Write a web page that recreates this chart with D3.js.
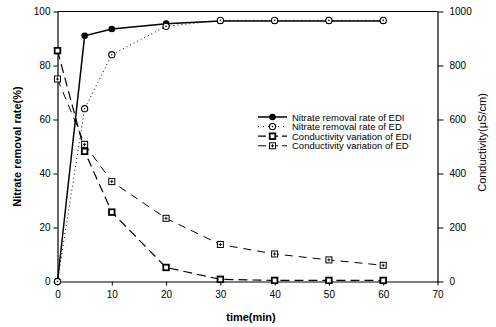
<!DOCTYPE html>
<html>
<head>
<meta charset="utf-8">
<script src="https://cdn.jsdelivr.net/npm/d3@7"></script>
<style>
  body { margin: 0; background: #fff; }
  svg text { font-family: "Liberation Sans", Arial, sans-serif; fill: #000; }
</style>
</head>
<body>
<div id="chart"></div>
<script>
// time points (min)
var times = [0, 5, 10, 20, 30, 40, 50, 60];

// nitrate removal rate (%)
var nitrateEDI = [0, 91, 93.5, 95.5, 96.5, 96.5, 96.5, 96.5];
var nitrateED = [0, 64, 84, 94.5, 96.7, 96.7, 96.7, 96.7];

// conductivity (uS/cm)
var condEDI = [855, 482, 257, 52, 8, 4, 4, 4];
var condED = [750, 508, 370, 234, 137, 102, 80, 60];

var xTicks = [0, 10, 20, 30, 40, 50, 60, 70];
var yTicks = [0, 20, 40, 60, 80, 100];
var y2Ticks = [0, 200, 400, 600, 800, 1000];

var legendLabels = [
    "Nitrate removal rate of EDI",
    "Nitrate removal rate of ED",
    "Conductivity variation of EDI",
    "Conductivity variation of ED"
];

var W = 496, H = 327;
var margin = { top: 11.5, right: 58.5, bottom: 45.5, left: 57.5 };

var svg = d3.select("#chart").append("svg")
    .attr("width", W)
    .attr("height", H);

var x = d3.scaleLinear().domain([0, 70]).range([margin.left, W - margin.right]);
var y = d3.scaleLinear().domain([0, 100]).range([H - margin.bottom, margin.top]);
var y2 = d3.scaleLinear().domain([0, 1000]).range([H - margin.bottom, margin.top]);

// frame top line
svg.append("line")
    .attr("x1", x(0)).attr("x2", x(70))
    .attr("y1", y(100)).attr("y2", y(100))
    .attr("stroke", "#000").attr("stroke-width", 1);

// axes
function styleAxis(g) {
    g.selectAll("path").attr("stroke", "#000").attr("stroke-width", 1.2);
    g.selectAll("line").attr("stroke", "#000").attr("stroke-width", 1);
    g.selectAll("text").style("font-size", "10px").attr("fill", "#000");
}

svg.append("g")
    .attr("transform", "translate(0," + y(0) + ")")
    .call(d3.axisBottom(x).tickValues(xTicks).tickSize(4).tickSizeOuter(0).tickPadding(5))
    .call(styleAxis);

svg.append("g")
    .attr("transform", "translate(" + x(0) + ",0)")
    .call(d3.axisLeft(y).tickValues(yTicks).tickSize(4).tickSizeOuter(0).tickPadding(3))
    .call(styleAxis);

svg.append("g")
    .attr("transform", "translate(" + x(70) + ",0)")
    .call(d3.axisRight(y2).tickValues(y2Ticks).tickFormat(d3.format("d"))
        .tickSize(6).tickSizeOuter(0).tickPadding(6))
    .call(styleAxis);

// axis titles
svg.append("text")
    .attr("transform", "translate(21," + ((y(0) + y(100)) / 2) + ") rotate(-90)")
    .attr("text-anchor", "middle")
    .style("font-size", "11px")
    .style("font-weight", "bold")
    .text("Nitrate removal rate(%)");

svg.append("text")
    .attr("transform", "translate(486," + ((y(0) + y(100)) / 2 - 4) + ") rotate(-90)")
    .attr("text-anchor", "middle")
    .style("font-size", "11px")
    .text("Conductivity(\u03bcS/cm)");

svg.append("text")
    .attr("x", 251)
    .attr("y", 321)
    .attr("text-anchor", "middle")
    .style("font-size", "11px")
    .style("font-weight", "bold")
    .text("time(min)");

// series definitions
var series = [
    { values: nitrateEDI, scale: y, dash: null, width: 1.5, marker: "dot" },
    { values: nitrateED, scale: y, dash: "1,3", width: 1, marker: "ring" },
    { values: condEDI, scale: y2, dash: "9,5", width: 1.2, marker: "square" },
    { values: condED, scale: y2, dash: "8,6", width: 1, marker: "squarePlus" }
];

function drawMarker(g, type, cx, cy) {
    if (type == "dot") {
        g.append("circle").attr("cx", cx).attr("cy", cy).attr("r", 3.3)
            .attr("fill", "#000");
    } else if (type == "ring") {
        g.append("circle").attr("cx", cx).attr("cy", cy).attr("r", 3.1)
            .attr("fill", "#fff").attr("stroke", "#000").attr("stroke-width", 1.1);
        g.append("circle").attr("cx", cx).attr("cy", cy).attr("r", 0.8)
            .attr("fill", "#000");
    } else if (type == "square") {
        g.append("rect").attr("x", cx - 2.8).attr("y", cy - 2.8)
            .attr("width", 5.6).attr("height", 5.6)
            .attr("fill", "#fff").attr("stroke", "#000").attr("stroke-width", 1.8);
    } else {
        g.append("rect").attr("x", cx - 3).attr("y", cy - 3)
            .attr("width", 6).attr("height", 6)
            .attr("fill", "#fff").attr("stroke", "#000").attr("stroke-width", 1);
        g.append("path")
            .attr("d", "M" + (cx - 1.6) + "," + cy + "H" + (cx + 1.6) + "M" + cx + "," + (cy - 1.6) + "V" + (cy + 1.6))
            .attr("stroke", "#000").attr("stroke-width", 0.9);
    }
}

series.forEach(function (s) {
    var line = d3.line()
        .x(function (d, i) { return x(times[i]); })
        .y(function (d) { return s.scale(d); });

    svg.append("path")
        .datum(s.values)
        .attr("d", line)
        .attr("fill", "none")
        .attr("stroke", "#000")
        .attr("stroke-width", s.width)
        .attr("stroke-dasharray", s.dash);

    var g = svg.append("g");
    s.values.forEach(function (v, i) {
        drawMarker(g, s.marker, x(times[i]), s.scale(v));
    });
});

// legend
var legend = svg.append("g");
var legX0 = 258, legX1 = 287, legY0 = 117, legStep = 9.6;
var legendDash = [null, "1,4", "8,4", "8,4"];

series.forEach(function (s, i) {
    var ly = legY0 + i * legStep;
    legend.append("line")
        .attr("x1", legX0).attr("x2", legX1)
        .attr("y1", ly).attr("y2", ly)
        .attr("stroke", "#000")
        .attr("stroke-width", s.width)
        .attr("stroke-dasharray", legendDash[i]);
    drawMarker(legend, s.marker, (legX0 + legX1) / 2, ly);
    legend.append("text")
        .attr("x", 292)
        .attr("y", ly + 3.5)
        .style("font-size", "9.5px")
        .text(legendLabels[i]);
});
</script>
</body>
</html>
